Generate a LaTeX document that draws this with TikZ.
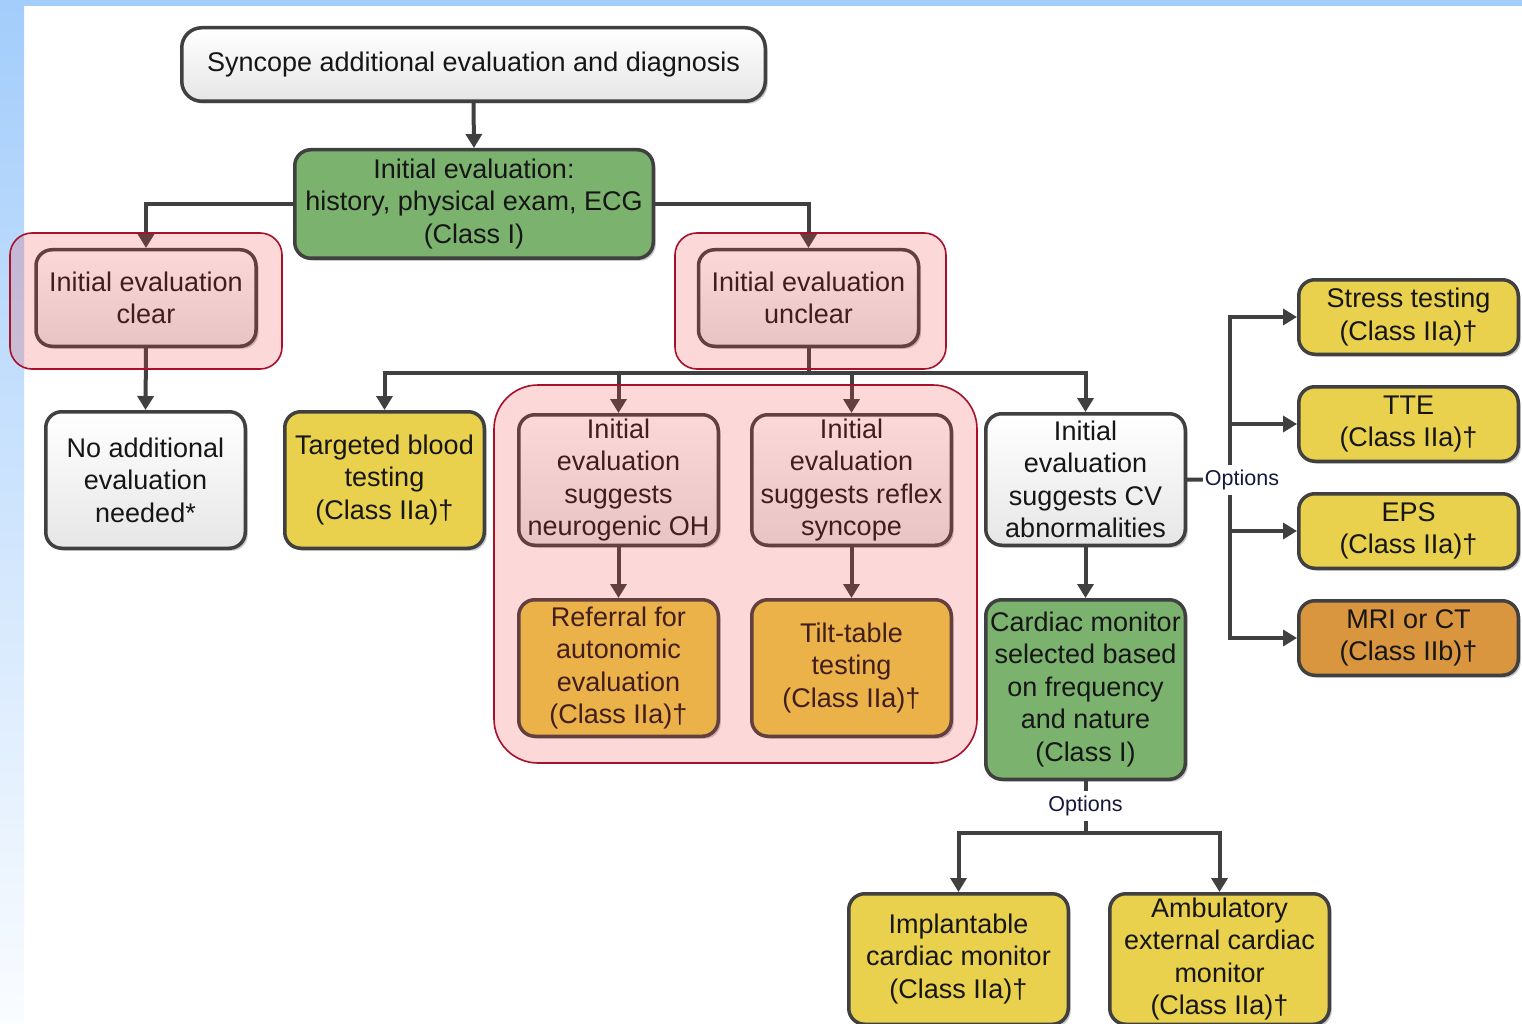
\documentclass[tikz,border=0pt]{standalone}
\usepackage{fontspec}
\setmainfont{Liberation Sans}
\usetikzlibrary{arrows.meta,shadows}

\definecolor{edge}{HTML}{404040}
\definecolor{ink}{HTML}{161616}
\definecolor{optink}{HTML}{14183A}
\definecolor{greyB}{HTML}{E6E6E6}
\definecolor{yellowF}{HTML}{E9D04D}
\definecolor{orangeF}{HTML}{D9963F}
\definecolor{greenF}{HTML}{7BB26E}
\definecolor{ovl}{HTML}{F03C3C}
\definecolor{grpred}{HTML}{A8102C}
\definecolor{bandblue}{HTML}{A3CDFB}
\definecolor{stripbot}{HTML}{FAFCFF}

\tikzset{
  box/.style={draw=edge, line width=3.5pt, rounded corners=16pt, align=center,
    inner sep=0pt, text=ink, font=\fontsize{27}{32.5}\selectfont,
    drop shadow={shadow xshift=2.5pt, shadow yshift=-2.5pt, fill=black, opacity=0.22}},
  sz/.style 2 args={minimum width=#1pt, minimum height=#2pt},
  whitebox/.style={box, top color=white, bottom color=greyB},
  yellowbox/.style={box, fill=yellowF},
  orangebox/.style={box, fill=orangeF},
  greenbox/.style={box, fill=greenF},
  ln/.style={draw=edge, line width=4pt},
  arr/.style={ln, -{Triangle[length=14pt,width=16pt]}},
  opt/.style={fill=white, inner sep=2pt, minimum height=30pt, text=optink,
    font=\fontsize{21.5}{24}\selectfont},
  grp/.style={fill=ovl, fill opacity=0.2, draw=grpred, draw opacity=1, line width=1.6pt}
}

\begin{document}
\begin{tikzpicture}[x=1pt,y=-1pt]
\useasboundingbox (0,0) rectangle (1522,1024);

% page background: white sheet, blue top band and fading left strip
\fill[white] (0,0) rectangle (1522,1024);
\shade[top color=bandblue, bottom color=stripbot] (0,0) rectangle (24,1024);
\fill[bandblue] (0,0) rectangle (1522,6);

% boxes
\node[whitebox, sz={583.5}{73.5}, rounded corners=20pt] (top) at (473.5,64.5)
  {Syncope additional evaluation and diagnosis};
\node[greenbox, sz={358.5}{108.5}] (init) at (474,204)
  {Initial evaluation:\\history, physical exam, ECG\\(Class I)};
\node[whitebox, sz={220}{96.5}] (clear) at (146,298) {Initial evaluation\\clear};
\node[whitebox, sz={220}{96.5}] (unclear) at (808.5,298) {Initial evaluation\\unclear};
\node[whitebox, sz={199.5}{136.5}] (noadd) at (145.5,480)
  {No additional\\evaluation\\needed*};
\node[yellowbox, sz={199.5}{136.5}] (blood) at (384.5,480)
  {Targeted blood\\testing\\(Class IIa)†};
\node[whitebox, sz={199.5}{130.5}] (oh) at (618.5,480)
  {Initial\\evaluation\\suggests\\neurogenic OH};
\node[whitebox, sz={199.5}{130.5}] (reflex) at (851.5,480)
  {Initial\\evaluation\\suggests reflex\\syncope};
\node[whitebox, sz={199.5}{131.5}] (cv) at (1085.5,479.5)
  {Initial\\evaluation\\suggests CV\\abnormalities};
\node[yellowbox, sz={199.5}{136.5}] (referral) at (618.5,668)
  {Referral for\\autonomic\\evaluation\\(Class IIa)†};
\node[yellowbox, sz={199.5}{136.5}] (tilt) at (851.5,668)
  {Tilt-table\\testing\\(Class IIa)†};
\node[greenbox, sz={199.5}{179.5}] (monitor) at (1085.5,689.5)
  {Cardiac monitor\\selected based\\on frequency\\and nature\\(Class I)};
\node[yellowbox, sz={219.5}{74.5}] (stress) at (1408.5,317) {Stress testing\\(Class IIa)†};
\node[yellowbox, sz={219.5}{74.5}] (tte) at (1408.5,424) {TTE\\(Class IIa)†};
\node[yellowbox, sz={219.5}{74.5}] (eps) at (1408.5,531) {EPS\\(Class IIa)†};
\node[orangebox, sz={219.5}{74.5}] (mri) at (1408.5,638) {MRI or CT\\(Class IIb)†};
\node[yellowbox, sz={219.5}{130.5}] (icm) at (958.5,959)
  {Implantable\\cardiac monitor\\(Class IIa)†};
\node[yellowbox, sz={219.5}{130.5}] (aecm) at (1219.5,959)
  {Ambulatory\\external cardiac\\monitor\\(Class IIa)†};

% connectors
\draw[arr] (top.south) -- (init.north);
\draw[arr] (init.west) -| (clear.north);
\draw[arr] (init.east) -| (unclear.north);
\draw[arr] (clear.south) -- (noadd.north);

\coordinate (bus) at (808.5,373);
\draw[ln] (unclear.south) -- (bus);
\draw[ln, line cap=rect] (bus -| blood.north) -- (bus -| cv.north);
\draw[arr] (bus -| blood.north) -- (blood.north);
\draw[arr] (bus -| oh.north) -- (oh.north);
\draw[arr] (bus -| reflex.north) -- (reflex.north);
\draw[arr] (bus -| cv.north) -- (cv.north);

\draw[arr] (oh.south) -- (referral.north);
\draw[arr] (reflex.south) -- (tilt.north);
\draw[arr] (cv.south) -- (monitor.north);

\coordinate (spine) at (1230,480);
\draw[ln] (cv.east) -- (spine);
\draw[ln, line cap=rect] (spine |- stress.west) -- (spine |- mri.west);
\draw[arr] (spine |- stress.west) -- (stress.west);
\draw[arr] (spine |- tte.west) -- (tte.west);
\draw[arr] (spine |- eps.west) -- (eps.west);
\draw[arr] (spine |- mri.west) -- (mri.west);
\node[opt] (opt1) at (1242,480) {Options};

\coordinate (bus2) at (1085.5,833);
\draw[ln] (monitor.south) -- (bus2);
\draw[ln, line cap=rect] (bus2 -| icm.north) -- (bus2 -| aecm.north);
\draw[arr] (bus2 -| icm.north) -- (icm.north);
\draw[arr] (bus2 -| aecm.north) -- (aecm.north);
\node[opt] (opt2) at (1085.5,806) {Options};

% translucent groupings
\path[grp, rounded corners=22pt] (10,233) rectangle (282,369);
\path[grp, rounded corners=22pt] (675,233) rectangle (946,369);
\path[grp, rounded corners=44pt] (494,385) rectangle (977,763);
\end{tikzpicture}
\end{document}
